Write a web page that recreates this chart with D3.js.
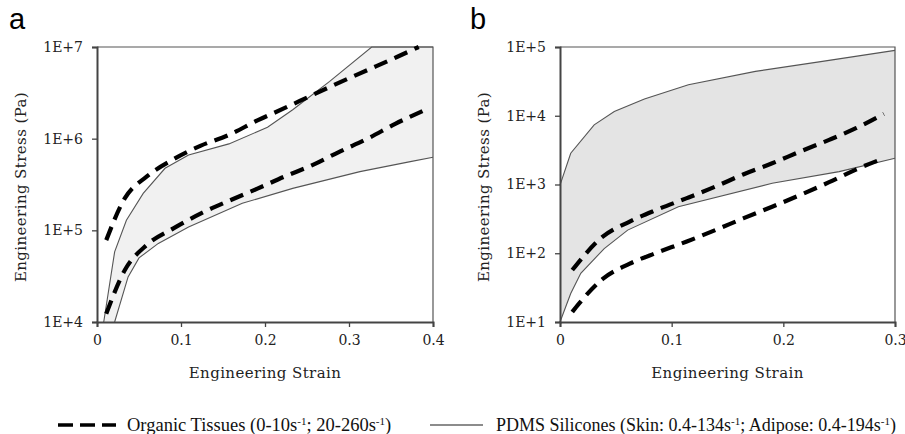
<!DOCTYPE html>
<meta charset="utf-8">
<style>
  body { margin: 0; background: #fff; }
  .tick text { font-family: "DejaVu Serif", serif; font-size: 14px; fill: #222; }
  .title { font-family: "DejaVu Serif", serif; font-size: 15px; letter-spacing: 0.4px; fill: #222; }
  .letter { font-family: "Liberation Sans", Arial, sans-serif; font-size: 29px; fill: #000; }
  .legend { font-family: "Liberation Serif", "Times New Roman", serif; fill: #111; }
</style>

<svg class="chart" width="905" height="434"></svg>

<script src="https://d3js.org/d3.v7.min.js"></script>
<script>

  // panel a : strain vs stress (Pa)
  var aPdmsUpper = [[0.008,1e4],[0.021,58200],[0.035,129000],[0.055,253000],[0.081,475000],[0.109,664000],
      [0.157,877000],[0.203,1.33e6],[0.233,2.07e6],[0.277,4.21e6],[0.327,1e7],[0.4,1e7]];
  var aPdmsLower = [[0.021,1e4],[0.037,31000],[0.05,50000],[0.073,72000],[0.109,109000],[0.173,197000],
      [0.233,287000],[0.313,437000],[0.373,562000],[0.4,627000]];
  var aTissueUpper = [[0.011,78200],[0.033,223000],[0.059,385000],[0.091,596000],[0.123,834000],[0.157,1.1e6],
      [0.191,1.58e6],[0.223,2.15e6],[0.257,3.01e6],[0.289,4.11e6],[0.323,5.65e6],[0.357,7.78e6],[0.383,1e7]];
  var aTissueLower = [[0.011,12300],[0.033,36700],[0.059,68900],[0.091,105000],[0.125,155000],[0.157,210000],
      [0.191,285000],[0.223,385000],[0.257,517000],[0.289,723000],[0.323,1.01e6],[0.355,1.45e6],[0.389,2.03e6]];

  // panel b
  var bPdmsUpper = [[0,980],[0.0096,2850],[0.0306,7360],[0.0486,11500],[0.0756,17500],[0.115,28200],
      [0.175,44200],[0.235,61800],[0.3,89400]];
  var bPdmsLower = [[0,10],[0.0096,26],[0.0186,51],[0.0396,117],[0.0606,217],[0.106,475],[0.19,1040],
      [0.25,1540],[0.3,2410]];
  var bTissueUpper = [[0.011,57],[0.038,173],[0.062,287],[0.086,425],[0.113,628],[0.139,929],[0.164,1400],
      [0.19,2035],[0.215,3015],[0.241,4455],[0.265,6590],[0.29,10660]];
  var bTissueLower = [[0.011,14],[0.017,18.5],[0.038,42],[0.062,70],[0.086,101],[0.113,147],[0.139,217],
      [0.164,321],[0.19,475],[0.215,703],[0.241,1080],[0.265,1650],[0.29,2410]];

  var xTicksA = [0, 0.1, 0.2, 0.3, 0.4];
  var yTicksA = [1e4, 1e5, 1e6, 1e7];
  var xTicksB = [0, 0.1, 0.2, 0.3];
  var yTicksB = [1e1, 1e2, 1e3, 1e4, 1e5];

  var svg = d3.select(".chart");

  function panel(opt) {
    var x = d3.scaleLinear().domain(opt.xDomain).range([opt.left, opt.right]);
    var y = d3.scaleLog().domain(opt.yDomain).range([322, 47]);
    var g = svg.append("g");

    var straight = d3.line()
        .x(function(d) { return x(d[0]); })
        .y(function(d) { return y(d[1]); });
    var smooth = d3.line()
        .x(function(d) { return x(d[0]); })
        .y(function(d) { return y(d[1]); })
        .curve(d3.curveMonotoneX);

    // shaded band between the silicone curves
    var band = opt.upper.concat(opt.lower.slice().reverse());
    g.append("path")
        .attr("d", straight(band))
        .attr("fill", opt.fill)
        .attr("stroke", "none");

    // frame: top + right thin
    g.append("path")
        .attr("d", "M" + opt.left + ",47H" + opt.right + "V322")
        .attr("fill", "none").attr("stroke", "#555").attr("stroke-width", 1.2);

    [opt.upper, opt.lower].forEach(function(s) {
      g.append("path").attr("d", straight(s))
          .attr("fill", "none").attr("stroke", "#555").attr("stroke-width", 1.1);
    });
    [opt.tUpper, opt.tLower].forEach(function(s) {
      g.append("path").attr("d", smooth(s))
          .attr("fill", "none").attr("stroke", "#000").attr("stroke-width", 4.2)
          .attr("stroke-dasharray", "14,8");
    });

    var xAxis = g.append("g")
        .attr("transform", "translate(0,322)")
        .call(d3.axisBottom(x).tickValues(opt.xTicks).tickSize(5).tickPadding(8)
          .tickFormat(function(d) { return d === 0 ? "0" : String(d); }));
    var yAxis = g.append("g")
        .attr("transform", "translate(" + opt.left + ",0)")
        .call(d3.axisLeft(y).tickValues(opt.yTicks).tickSize(5).tickPadding(9)
          .tickFormat(function(d) { return "1E+" + Math.round(Math.log10(d)); }));
    [xAxis, yAxis].forEach(function(a) {
      a.select(".domain").attr("stroke", "#444").attr("stroke-width", 2);
      a.selectAll(".tick line").attr("stroke", "#444").attr("stroke-width", 1.3);
    });

    g.append("text").attr("class", "title")
        .attr("x", (opt.left + opt.right) / 2).attr("y", 378)
        .attr("text-anchor", "middle").text("Engineering Strain");
    g.append("text").attr("class", "title")
        .attr("transform", "translate(" + (opt.left - 71) + ",187) rotate(-90)")
        .attr("text-anchor", "middle").text("Engineering Stress (Pa)");
    g.append("text").attr("class", "letter")
        .attr("x", opt.letterX).attr("y", 29).text(opt.letter);
  }

  panel({ xDomain: [0, 0.4], yDomain: [1e4, 1e7], left: 97, right: 433,
          upper: aPdmsUpper, lower: aPdmsLower, tUpper: aTissueUpper, tLower: aTissueLower,
          xTicks: xTicksA, yTicks: yTicksA, fill: "#f1f1f1", letter: "a", letterX: 9 });
  panel({ xDomain: [0, 0.3], yDomain: [1e1, 1e5], left: 560, right: 895,
          upper: bPdmsUpper, lower: bPdmsLower, tUpper: bTissueUpper, tLower: bTissueLower,
          xTicks: xTicksB, yTicks: yTicksB, fill: "#e4e4e4", letter: "b", letterX: 470 });

  // legend
  var lg = svg.append("g");
  lg.append("line").attr("x1", 58).attr("x2", 116).attr("y1", 425).attr("y2", 425)
      .attr("stroke", "#000").attr("stroke-width", 3.5).attr("stroke-dasharray", "15,7");
  lg.append("line").attr("x1", 430).attr("x2", 483).attr("y1", 425).attr("y2", 425)
      .attr("stroke", "#666").attr("stroke-width", 1.5);

  function legendText(x, size, parts) {
    var t = lg.append("text").attr("class", "legend").attr("x", x).attr("y", 431)
        .attr("font-size", size + "px");
    parts.forEach(function(p) {
      var s = t.append("tspan").text(p[0]);
      if (p[1]) s.attr("baseline-shift", "super").attr("font-size", "11px");
    });
  }
  legendText(127, 18.5, [["Organic Tissues (0-10s"], ["-1", 1], ["; 20-260s"], ["-1", 1], [")"]]);
  legendText(496, 18, [["PDMS Silicones (Skin: 0.4-134s"], ["-1", 1], ["; Adipose: 0.4-194s"], ["-1", 1], [")"]]);

</script>
